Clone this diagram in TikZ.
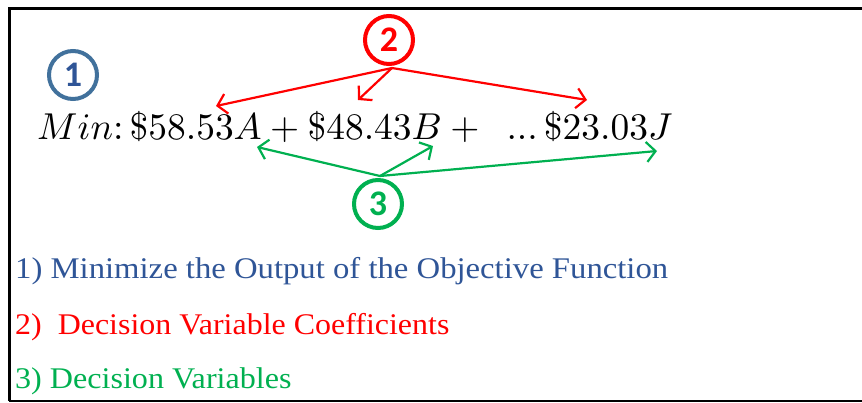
\documentclass[tikz,border=0pt]{standalone}
\usepackage{fontspec}
\setmainfont{Liberation Serif}
\newfontfamily\numfont{Carlito}
\usetikzlibrary{arrows.meta}
\definecolor{cblue}{HTML}{41719C}
\definecolor{tblue}{HTML}{2F5597}
\definecolor{cred}{HTML}{FF0000}
\definecolor{cgreen}{HTML}{00B050}
\tikzset{
  badge/.style={circle, draw=#1, line width=4pt, minimum size=48pt, inner sep=0pt, font=\numfont\bfseries\fontsize{36}{36}\selectfont},
  pointer/.style={draw=#1, line width=2.2pt, -{Straight Barb[length=9pt,width=20pt,line width=2.2pt]}},
  legend/.style={anchor=base west, inner sep=0pt, font=\fontsize{30}{30}\selectfont},
  frameline/.style={line width=3pt, black}
}
\begin{document}
\begin{tikzpicture}[x=1pt,y=-1pt]
\useasboundingbox (0,0) rectangle (862,402);
% frame
\coordinate (tl) at (9,8);
\coordinate (tr) at (862,8);
\coordinate (bl) at (9,401);
\coordinate (br) at (862,401);
\draw[frameline] (tr) -- (tl) -- (bl);
\draw[line width=2pt] (bl) -- (br);
% badges
\node[badge=cblue, text=tblue] (b1) at (73,75) {1};
\node[badge=cred, text=cred] (b2) at (389,40) {2};
\node[badge=cgreen, text=cgreen] (b3) at (378,204) {3};
% equation
\node[anchor=base west, inner sep=0pt] (eq) at (37,139)
  {\resizebox{635pt}{!}{$Min\colon\$58.53A+\$48.43B+\ \ ...\,\$23.03J$}};
% pointer endpoints
\coordinate (s2) at (392,68);
\coordinate (rA) at (216,106);
\coordinate (rB) at (358,100);
\coordinate (rJ) at (587,100);
\coordinate (s3) at (380,176);
\coordinate (gA) at (257,147);
\coordinate (gB) at (433,146);
\coordinate (gJ) at (657,151);
\draw[pointer=cred] (s2) -- (rA);
\draw[pointer=cred] (s2) -- (rB);
\draw[pointer=cred] (s2) -- (rJ);
\draw[pointer=cgreen] (s3) -- (gA);
\draw[pointer=cgreen] (s3) -- (gB);
\draw[pointer=cgreen] (s3) -- (gJ);
% legend
\node[legend, text=tblue] (l1) at (15,278) {\scalebox{1.09}[1]{1) Minimize the Output of the Objective Function}};
\node[legend, text=cred] (l2) at (15,334) {\scalebox{1.065}[1]{2)\ \ Decision Variable Coefficients}};
\node[legend, text=cgreen] (l3) at (15,388) {\scalebox{1.07}[1]{3) Decision Variables}};
\end{tikzpicture}
\end{document}
